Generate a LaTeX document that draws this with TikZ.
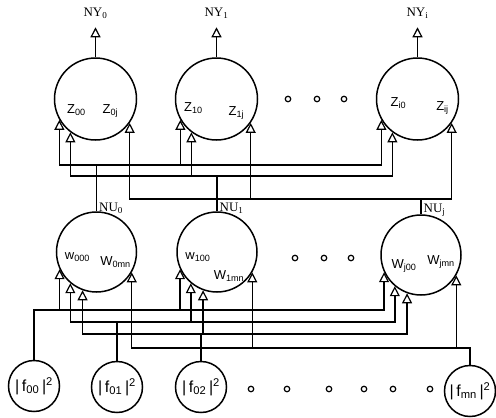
\documentclass[tikz,border=0pt]{standalone}
\usepackage{fontspec}
\setmainfont{Liberation Serif}
\newfontfamily\cellfont{Liberation Sans}
\usetikzlibrary{arrows.meta, positioning}

\begin{document}
\begin{tikzpicture}[
        x=1pt, y=-1pt,
        line width=1.4pt,
        every node/.style={font=\fontsize{13}{15}\selectfont},
        cell/.style={
            circle,
            draw,
            line width=1.5pt,
            minimum size=82pt,
            inner sep=0pt
        },
        source/.style={
            circle,
            draw,
            line width=1.5pt,
            minimum size=51pt,
            inner sep=0pt,
            font=\cellfont\fontsize{16}{18}\selectfont
        },
        celltext/.style={
            inner sep=0pt,
            font=\cellfont\fontsize{13}{15}\selectfont
        },
        outlabel/.style={inner sep=0pt},
        dot/.style={
            circle,
            draw,
            line width=1.2pt,
            minimum size=5.5pt,
            inner sep=0pt
        },
        feed/.style={
            -{Triangle[open, length=10pt, width=10pt, line width=1.2pt]}
        },
        feedboth/.style={
            {Triangle[open, length=10pt, width=10pt, line width=1.2pt]}-{Triangle[open, length=10pt, width=10pt, line width=1.2pt]}
        }
    ]

    \useasboundingbox (0,0) rectangle (496,418);

    % Output layer
    \node[cell] (z0) at (95.5,99) {};
    \node[cell] (z1) at (216.5,99) {};
    \node[cell] (zi) at (417.5,99) {};

    \node[celltext] (z0a) at ([shift={(-19,11)}]z0.center) {Z\textsubscript{00}};
    \node[celltext] (z0b) at ([shift={(15,12)}]z0.center) {Z\textsubscript{0j}};
    \node[celltext] (z1a) at ([shift={(-23,9)}]z1.center) {Z\textsubscript{10}};
    \node[celltext] (z1b) at ([shift={(20,14)}]z1.center) {Z\textsubscript{1j}};
    \node[celltext] (zia) at ([shift={(-19,4)}]zi.center) {Z\textsubscript{i0}};
    \node[celltext] (zib) at ([shift={(25,9)}]zi.center) {Z\textsubscript{ij}};

    \node[outlabel, above=38pt of z0] (ny0) {NY\textsubscript{0}};
    \node[outlabel, above=38pt of z1] (ny1) {NY\textsubscript{1}};
    \node[outlabel, above=38pt of zi] (nyi) {NY\textsubscript{i}};

    \draw[feed, shorten >=8pt] (z0) -- (ny0);
    \draw[feed, shorten >=8pt] (z1) -- (ny1);
    \draw[feed, shorten >=8pt] (zi) -- (nyi);

    % Hidden layer
    \node[cell, minimum size=80pt] (w0) at (96.5,252) {};
    \node[cell, minimum size=80pt] (w1) at (217,252) {};
    \node[cell, minimum size=80pt] (wj) at (421,255) {};

    \node[celltext] (w0a) at ([shift={(-19,5)}]w0.center) {w\textsubscript{000}};
    \node[celltext] (w0b) at ([shift={(19,10)}]w0.center) {W\textsubscript{0mn}};
    \node[celltext] (w1a) at ([shift={(-19,5)}]w1.center) {w\textsubscript{100}};
    \node[celltext] (w1b) at ([shift={(12,24)}]w1.center) {W\textsubscript{1mn}};
    \node[celltext] (wja) at ([shift={(-17,11)}]wj.center) {W\textsubscript{j00}};
    \node[celltext] (wjb) at ([shift={(20,7)}]wj.center) {W\textsubscript{jmn}};

    \node[outlabel, anchor=south west] (nu0) at ([xshift=2pt, yshift=-3pt]w0.north) {NU\textsubscript{0}};
    \node[outlabel, anchor=south west] (nu1) at ([xshift=2pt, yshift=-3pt]w1.north) {NU\textsubscript{1}};
    \node[outlabel, anchor=south west] (nuj) at ([xshift=2pt, yshift=-3pt]wj.north) {NU\textsubscript{j}};

    % Input layer
    \node[source] (f00) at (34,386) {|\,f\textsubscript{00}\,|\textsuperscript{2}};
    \node[source] (f01) at (117,387) {|\,f\textsubscript{01}\,|\textsuperscript{2}};
    \node[source] (f02) at (201,387) {|\,f\textsubscript{02}\,|\textsuperscript{2}};
    \node[source] (fmn) at (470,391) {|\,f\textsubscript{mn}\,|\textsuperscript{2}};

    % Dots
    \foreach \x [count=\k] in {288, 317, 344}
        \node[dot] (zdot\k) at (\x,99) {};
    \foreach \x [count=\k] in {295, 324, 351}
        \node[dot] (wdot\k) at (\x,258) {};
    \foreach \x [count=\k] in {251, 287, 329, 364, 393, 430}
        \node[dot] (fdot\k) at (\x,389) {};

    % Buses between the layers
    \coordinate (busA) at (0,165);
    \coordinate (busB) at (0,176);
    \coordinate (busC) at (0,199);
    \coordinate (bus1) at (0,310);
    \coordinate (bus2) at (0,322);
    \coordinate (bus3) at (0,334);
    \coordinate (bus4) at (0,348);

    % Hidden to output
    \draw[feedboth] (z0.210) -- (z0.210 |- busA) -- (zi.210 |- busA) -- (zi.210);
    \draw[feedboth] (z0.233) -- (z0.233 |- busB) -- (zi.233 |- busB) -- (zi.233);
    \draw[feedboth] (z0.325) -- (z0.325 |- busC) -- (zi.325 |- busC) -- (zi.325);
    \draw[feed] (z1.210 |- busA) -- (z1.210);
    \draw[feed] (z1.233 |- busB) -- (z1.233);
    \draw[feed] (z1.325 |- busC) -- (z1.325);

    \draw (w0.north) -- (w0.north |- busA);
    \draw (w1.north) -- (w1.north |- busB);
    \draw (wj.north) -- (wj.north |- busC);

    % Input to hidden
    \draw[feed] (f00.north) |- (wj.205 |- bus1) -- (wj.205);
    \draw[feed] (w0.205 |- bus1) -- (w0.205);
    \draw[feed] (w1.205 |- bus1) -- (w1.205);

    \draw[feedboth] (w0.230) -- (w0.230 |- bus2) -- (wj.230 |- bus2) -- (wj.230);
    \draw[feed] (w1.230 |- bus2) -- (w1.230);
    \draw (f01.north) -- (f01.north |- bus2);

    \draw[feedboth] (w0.250) -- (w0.250 |- bus3) -- (wj.250 |- bus3) -- (wj.250);
    \draw[feed] (w1.250 |- bus3) -- (w1.250);
    \draw (f02.north) -- (f02.north |- bus3);

    \draw[feed] (fmn.north) |- (w0.330 |- bus4) -- (w0.330);
    \draw[feed] (w1.330 |- bus4) -- (w1.330);
    \draw[feed] (wj.330 |- bus4) -- (wj.330);

\end{tikzpicture}
\end{document}
